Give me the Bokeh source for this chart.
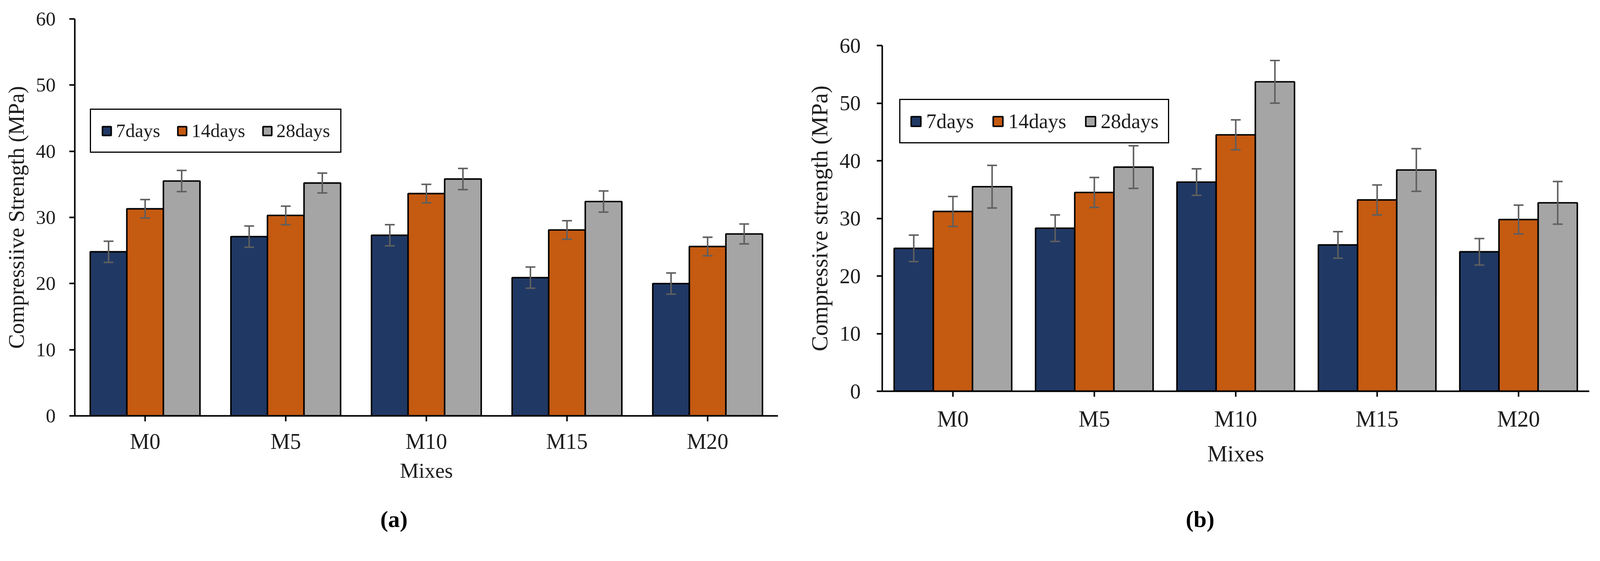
from bokeh.plotting import figure
from bokeh.models import (ColumnDataSource, FactorRange, Range1d, Title, Legend,
                          LegendItem, SingleIntervalTicker)
from bokeh.transform import dodge
from bokeh.embed import file_html
from bokeh.resources import INLINE

mixes = ["M0", "M5", "M10", "M15", "M20"]
ages = ["7days", "14days", "28days"]
colors = ["#203864", "#C55A11", "#A5A5A5"]

# panel (a)
a_7 = [24.8, 27.1, 27.3, 20.9, 20.0]
a_14 = [31.3, 30.3, 33.6, 28.1, 25.6]
a_28 = [35.5, 35.2, 35.8, 32.4, 27.5]
a_7_err = [1.6, 1.6, 1.6, 1.6, 1.6]
a_14_err = [1.4, 1.4, 1.4, 1.4, 1.4]
a_28_err = [1.6, 1.5, 1.6, 1.6, 1.5]

# panel (b)
b_7 = [24.8, 28.3, 36.3, 25.4, 24.2]
b_14 = [31.2, 34.5, 44.5, 33.2, 29.8]
b_28 = [35.5, 38.9, 53.7, 38.4, 32.7]
b_7_err = [2.3, 2.3, 2.3, 2.3, 2.3]
b_14_err = [2.6, 2.6, 2.6, 2.6, 2.5]
b_28_err = [3.7, 3.7, 3.7, 3.7, 3.7]

FONT = "Liberation Serif"
ERR_COLOR = "#5f5f5f"

# the viewport seems to come out a bit narrower than the window,
# so every pixel size is shrunk by this factor
S = 0.97


def px(v):
    return int(round(v * S))


def fpx(v):
    return f"{v * S:.1f}px"


# the two panels are separate roots laid side by side, so that their
# frames are not forced to share the same top and bottom borders
PAGE = """
{% block postamble %}
<style>
  html, body { overflow: hidden; }
  body { display: flex; flex-direction: row; align-items: flex-start; margin: 8px; }
  body > div > div { flex: 0 0 auto; }
</style>
{% endblock %}
"""


def make_panel(series, errors, cfg):
    p = figure(
        x_range=FactorRange(*mixes, range_padding=0),
        y_range=Range1d(0, 60),
        width=px(cfg["w"]), height=px(cfg["h"]),
        min_border_left=px(cfg["bl"]), min_border_right=px(cfg["br"]),
        min_border_top=px(cfg["bt"]), min_border_bottom=px(cfg["bb"]),
        output_backend="svg", toolbar_location=None,
    )
    bw = cfg["bar"]
    items = []
    for i, (vals, errs) in enumerate(zip(series, errors)):
        src = ColumnDataSource(dict(
            mix=mixes, top=vals,
            lo=[v - e for v, e in zip(vals, errs)],
            hi=[v + e for v, e in zip(vals, errs)],
        ))
        xd = dodge("mix", (i - 1) * bw, range=p.x_range)
        r = p.vbar(x=xd, top="top", width=bw, source=src,
                   fill_color=colors[i], line_color="black", line_width=4 * S)
        items.append(LegendItem(label=ages[i], renderers=[r]))
        p.segment(x0=xd, y0="lo", x1=xd, y1="hi", source=src,
                  line_color=ERR_COLOR, line_width=4 * S)
        for col in ("lo", "hi"):
            p.scatter(x=xd, y=col, source=src, marker="dash", size=26 * S,
                      line_color=ERR_COLOR, line_width=4 * S)

    lx, ly = cfg["leg_loc"]
    legend = Legend(
        items=items, location=(px(lx), px(ly)), orientation="horizontal",
        border_line_color="black", border_line_width=4 * S, border_line_alpha=1,
        padding=px(cfg["leg_pad"]), spacing=px(cfg["leg_space"]),
        label_standoff=px(cfg["leg_standoff"]),
        glyph_width=px(cfg["glyph"]), glyph_height=px(cfg["glyph"]),
        label_text_font=FONT, label_text_font_size=fpx(cfg["leg_font"]),
        label_text_color="#1e1e1e",
    )
    p.add_layout(legend)

    p.xgrid.grid_line_color = None
    p.ygrid.grid_line_color = None
    p.outline_line_color = None
    p.yaxis.ticker = SingleIntervalTicker(interval=10, num_minor_ticks=0)

    for ax in (p.xaxis[0], p.yaxis[0]):
        ax.axis_line_width = 4 * S
        ax.axis_line_color = "black"
        ax.major_tick_line_width = 4 * S
        ax.major_tick_in = 0
        ax.major_tick_out = px(14)
        ax.minor_tick_line_color = None
        ax.major_label_text_font = FONT
        ax.major_label_text_color = "#1e1e1e"
        ax.axis_label_text_font = FONT
        ax.axis_label_text_font_style = "normal"
        ax.axis_label_text_color = "#1e1e1e"

    p.xaxis.axis_label = "Mixes"
    p.xaxis.major_label_text_font_size = fpx(cfg["xtick_font"])
    p.xaxis.major_label_standoff = px(cfg["xtick_so"])
    p.xaxis.axis_label_text_font_size = fpx(cfg["xlab_font"])
    p.xaxis.axis_label_standoff = px(cfg["xlab_so"])

    p.yaxis.axis_label = cfg["ytitle"]
    p.yaxis.major_label_text_font_size = fpx(cfg["ytick_font"])
    p.yaxis.major_label_standoff = px(cfg["ytick_so"])
    p.yaxis.axis_label_text_font_size = fpx(cfg["ylab_font"])
    p.yaxis.axis_label_standoff = px(cfg["ylab_so"])

    tag = Title(text=cfg["tag"], align="left", offset=px(cfg["tag_off"]),
                standoff=px(cfg["tag_so"]), text_font=FONT, text_font_style="bold",
                text_font_size=fpx(62), text_color="black")
    p.add_layout(tag, "below")
    return p


# bottom borders are taller than the window so the panel tag can sit low
# without squeezing the frame; the overflow is simply hidden
cfg_a = dict(w=2102, h=1480, bl=189, br=58, bt=41, bb=392, bar=0.26,
             leg_loc=(40, 694), leg_pad=27, leg_space=43, leg_standoff=10,
             glyph=29, leg_font=50,
             xtick_font=58, xtick_so=21, xlab_font=56, xlab_so=11,
             ytick_font=52, ytick_so=36, ylab_font=58, ylab_so=16,
             ytitle="Compressiive Strength (MPa)",
             tag="(a)", tag_off=806, tag_so=114)

cfg_b = dict(w=2102, h=1500, bl=218, br=19, bt=111, bb=476, bar=0.277,
             leg_loc=(45, 654), leg_pad=25, leg_space=47, leg_standoff=11,
             glyph=32, leg_font=54,
             xtick_font=60, xtick_so=25, xlab_font=60, xlab_so=22,
             ytick_font=56, ytick_so=42, ylab_font=61, ylab_so=15,
             ytitle="Compressive strength (MPa)",
             tag="(b)", tag_off=801, tag_so=198)

p_a = make_panel([a_7, a_14, a_28], [a_7_err, a_14_err, a_28_err], cfg_a)
p_b = make_panel([b_7, b_14, b_28], [b_7_err, b_14_err, b_28_err], cfg_b)

open("out.html", "w").write(file_html([p_a, p_b], INLINE, template=PAGE))
